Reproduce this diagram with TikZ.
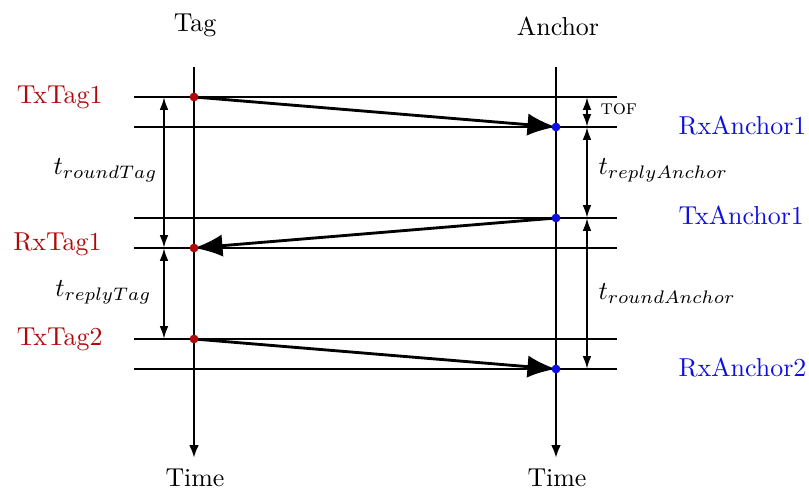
\documentclass[tikz,border=0pt]{standalone}
\usetikzlibrary{arrows.meta}
\definecolor{tagred}{RGB}{175,10,10}
\definecolor{ancblue}{RGB}{15,15,225}
\begin{document}
\begin{tikzpicture}[x=0.386pt,y=-0.386pt,
  axisline/.style={line width=1.1pt,-{Latex[length=5pt,width=3.8pt]}},
  gridline/.style={line width=0.5pt},
  msg/.style={line width=1.1pt,-{Latex[length=11pt,width=8.6pt]}},
  dbl/.style={line width=0.8pt,{Latex[length=5pt,width=3.4pt]}-{Latex[length=5pt,width=3.4pt]}},
  tagdot/.style={circle,fill=tagred,inner sep=0pt,minimum size=3.4pt},
  ancdot/.style={circle,fill=ancblue,inner sep=0pt,minimum size=3.4pt},
  taglbl/.style={text=tagred,anchor=base east,inner sep=0pt},
  anclbl/.style={text=ancblue,anchor=base west,inner sep=0pt},
  dimlbl/.style={inner sep=0pt}
]
\useasboundingbox (0,0) rectangle (809,492);
% coordinates
\coordinate (tagtop) at (194,67);
\coordinate (tagbot) at (194,458);
\coordinate (anctop) at (556,67);
\coordinate (ancbot) at (556,458);
\coordinate (tA1) at (194,97);
\coordinate (aR1) at (556,127);
\coordinate (aT1) at (556,218);
\coordinate (tR1) at (194,248);
\coordinate (tT2) at (194,339);
\coordinate (aR2) at (556,369);
% horizontal lines
\foreach \yy in {97,127,218,248,339,369}
  \draw[gridline] (134,\yy) -- (617,\yy);
% time axes
\draw[axisline] (tagtop) -- (tagbot);
\draw[axisline] (anctop) -- (ancbot);
% headers
\node[anchor=base] (hTag) at (195,32) {Tag};
\node[anchor=base] (hAnc) at (558,36) {Anchor};
\node[anchor=base] (fTag) at (195,487) {Time};
\node[anchor=base] (fAnc) at (557,487) {Time};
% messages
\draw[msg] (tA1) -- (aR1);
\draw[msg] (aT1) -- (tR1);
\draw[msg] (tT2) -- (aR2);
% dots
\node[tagdot] (dtA1) at (tA1) {};
\node[tagdot] (dtR1) at (tR1) {};
\node[tagdot] (dtT2) at (tT2) {};
\node[ancdot] (daR1) at (aR1) {};
\node[ancdot] (daT1) at (aT1) {};
\node[ancdot] (daR2) at (aR2) {};
% event labels
\node[taglbl] (lTx1) at (103,104) {TxTag1};
\node[taglbl] (lRx1) at (102,251) {RxTag1};
\node[taglbl] (lTx2) at (103,346) {TxTag2};
\node[anclbl] (lRA1) at (678,135) {RxAnchor1};
\node[anclbl] (lTA1) at (678,225) {TxAnchor1};
\node[anclbl] (lRA2) at (678,377) {RxAnchor2};
% interval arrows
\coordinate (l1) at (164,97);
\coordinate (l2) at (164,248);
\coordinate (l3) at (164,339);
\coordinate (r1) at (587,97);
\coordinate (r2) at (587,127);
\coordinate (r3) at (587,218);
\coordinate (r4) at (587,369);
\draw[dbl] (l1) -- (l2);
\draw[dbl] (l2) -- (l3);
\draw[dbl] (r1) -- (r2);
\draw[dbl] (r2) -- (r3);
\draw[dbl] (r3) -- (r4);
% interval labels
\node[dimlbl,anchor=base east] (iRT) at (158,175) {$t_{roundTag}$};
\node[dimlbl,anchor=base east] (iPT) at (152,297) {$t_{replyTag}$};
\node[dimlbl,anchor=base west] (iTOF) at (600,115) {\footnotesize\textsc{tof}};
\node[dimlbl,anchor=base west] (iPA) at (598,175) {$t_{replyAnchor}$};
\node[dimlbl,anchor=base west] (iRA) at (598,300) {$t_{roundAnchor}$};
\end{tikzpicture}
\end{document}
